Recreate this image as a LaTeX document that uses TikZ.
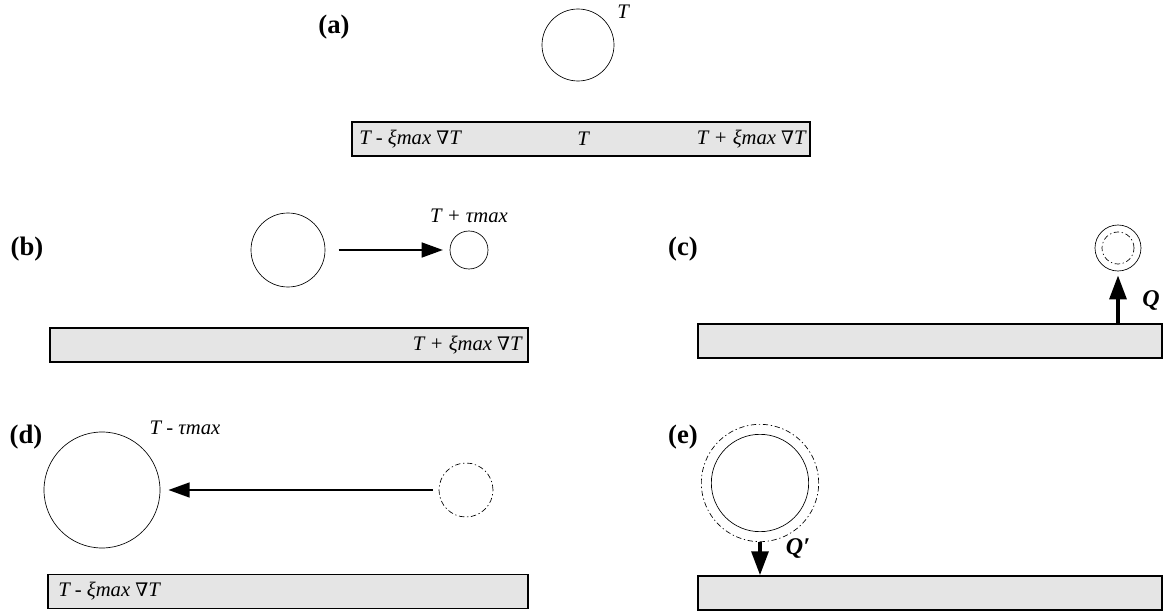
\documentclass[tikz,border=0pt]{standalone}
\usepackage{fontspec}
\setmainfont{Liberation Serif}
\newfontfamily\nablafont{DejaVu Serif}
\usepackage{tikz}
\usetikzlibrary{arrows.meta}

\newcommand{\nab}{{\nablafont\itshape\fontsize{14}{16}\selectfont ∇}}
\definecolor{barfill}{RGB}{229,229,229}
\tikzset{
  ball/.style={circle, draw, line width=0.5pt, minimum size=#1, inner sep=0pt},
  ghost/.style={circle, draw, line width=0.5pt, minimum size=#1, inner sep=0pt,
    dash pattern={on 4pt off 2pt on 1pt off 2pt}},
  barbox/.style={draw, fill=barfill, line width=1pt, minimum width=#1,
    minimum height=25.5pt, inner sep=0pt},
  move/.style={line width=2pt, -{Triangle[length=16pt,width=11pt]}},
  flux/.style={line width=3pt, -{Triangle[length=18pt,width=12.5pt]}},
  lbl/.style={font=\fontsize{15.5}{17}\selectfont\itshape, inner sep=0pt},
  flx/.style={font=\fontsize{18}{20}\selectfont\bfseries\itshape, inner sep=0pt},
  panel/.style={font=\fontsize{20}{22}\selectfont\bfseries, inner sep=0pt}
}

\begin{document}
\begin{tikzpicture}[x=0.75pt,y=0.75pt,yscale=-1,xscale=1]
\path[use as bounding box] (0,0) rectangle (1172,613);

%Panel (a)
\node[panel] (pa) at (334,27) {(a)};
%Shape: Circle
\node[ball=54pt] (ca) at (578,45) {};
% Text Node
\node[lbl] (ta) at (623,12) {T};
%Shape: Rectangle
\node[barbox=343.5pt] (ba) at (581,139) {};
% Text Node
\node[lbl, anchor=west] at (359,139) {T - ξmax \nab T};
% Text Node
\node[lbl] at (583,139) {T};
% Text Node
\node[lbl, anchor=east] at (806,139) {T + ξmax \nab T};

%Panel (b)
\node[panel] (pb) at (27,249) {(b)};
%Shape: Circle
\node[ball=55.5pt] (cb1) at (288,250) {};
%Shape: Circle
\node[ball=28.5pt] (cb2) at (469,250) {};
% Text Node
\node[lbl] at (469,216) {T + τmax};
%Straight Lines
\draw[move, shorten <=10pt, shorten >=5pt] (cb1) -- (cb2);
%Shape: Rectangle
\node[barbox=358.5pt] (bb) at (289,345) {};
% Text Node
\node[lbl, anchor=east] at (522,345) {T + ξmax \nab T};

%Panel (c)
\node[panel] (pc) at (683,249) {(c)};
%Shape: Circle
\node[ball=34.5pt] (cc) at (1118,248) {};
\node[ghost=24pt] (cci) at (1118,248) {};
%Shape: Rectangle
\node[barbox=348pt] (bc) at (930,341) {};
%Straight Lines
\draw[flux, shorten >=3pt] (bc.north -| cc) -- (cc.south);
% Text Node
\node[flx] at (1151,300) {Q};

%Panel (d)
\node[panel] (pd) at (26,437) {(d)};
%Shape: Circle
\node[ball=87pt] (cd1) at (102,490) {};
%Shape: Circle
\node[ghost=40.5pt] (cd2) at (466,490) {};
% Text Node
\node[lbl] at (185,428) {T - τmax};
%Straight Lines
\draw[move, shorten <=4.5pt, shorten >=6pt] (cd2) -- (cd1);
%Shape: Rectangle
\node[barbox=360pt] (bd) at (288,591.5) {};
% Text Node
\node[lbl, anchor=west] at (58,591.5) {T - ξmax \nab T};

%Panel (e)
\node[panel] (pe) at (683,437) {(e)};
%Shape: Circle
\node[ghost=88pt] (ceo) at (760,483) {};
\node[ball=73pt] (ce) at (760,483) {};
%Shape: Rectangle
\node[barbox=348pt] (be) at (930,593) {};
%Straight Lines
\draw[flux] (ceo.south) -- (ceo.south |- be.north);
% Text Node
\node[flx] at (798,548) {Q′};

\end{tikzpicture}
\end{document}
